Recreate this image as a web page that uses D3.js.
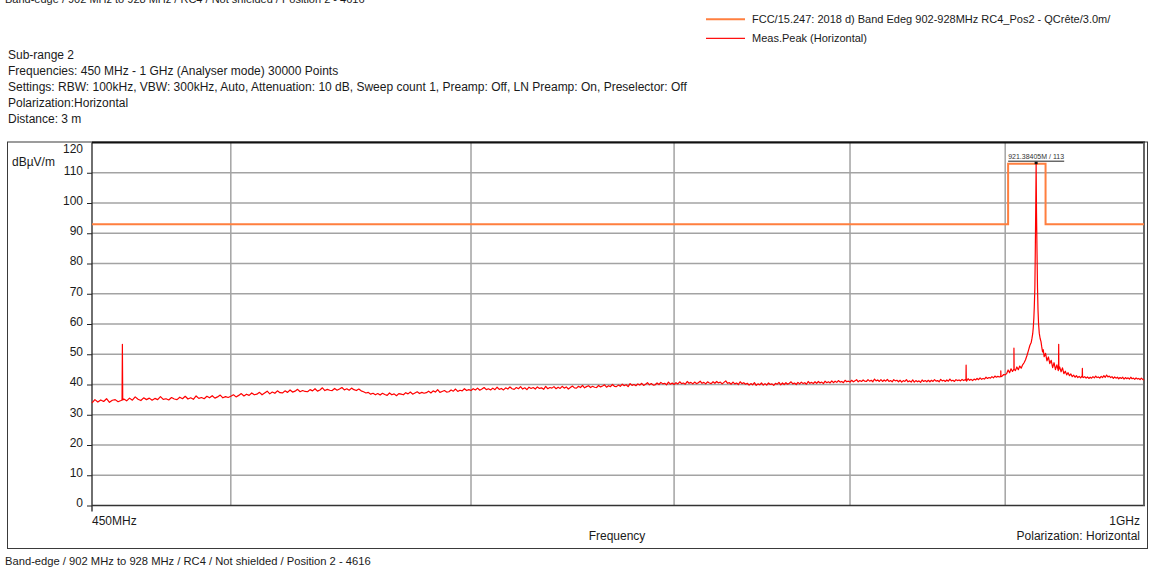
<!DOCTYPE html>
<html><head><meta charset="utf-8">
<script src="https://cdn.jsdelivr.net/npm/d3@7"></script>
<style>
body{margin:0;background:#fff;}
svg{display:block;font-family:"Liberation Sans",Arial,sans-serif;}
</style></head><body>
<svg id="c" width="1151" height="568"></svg>
<script>
// ---------- texts ----------
const titleText = "Band-edge / 902 MHz to 928 MHz / RC4 / Not shielded / Position 2  -  4616";
const infoLines = [
  "Sub-range 2",
  "Frequencies: 450 MHz - 1 GHz (Analyser mode) 30000 Points",
  "Settings: RBW: 100kHz, VBW: 300kHz, Auto, Attenuation: 10 dB, Sweep count 1, Preamp: Off, LN Preamp: On, Preselector: Off",
  "Polarization:Horizontal",
  "Distance: 3 m"
];
const legendLabels = ["FCC/15.247: 2018 d) Band Edeg 902-928MHz RC4_Pos2 - QCrête/3.0m/", "Meas.Peak (Horizontal)"];
const yUnit = "dBµV/m";
const yTicks = [0, 10, 20, 30, 40, 50, 60, 70, 80, 90, 100, 110, 120];
const xGridMHz = [500, 600, 700, 800, 900];
const xStartLabel = "450MHz", xEndLabel = "1GHz";
const xTitle = "Frequency", polLabel = "Polarization: Horizontal";

// ---------- limit line (dBµV/m) ----------
const limitFreqsMHz = [450, 902, 902, 928, 928, 1000];
const limitLevels = [93, 93, 113, 113, 93, 93];

// ---------- measured peak trace ----------
// sweep A: 450 .. 900 MHz, 1 MHz grid
const sweepA_startMHz = 450, sweepA_stepMHz = 1;
const sweepA_levels = [
  33.9, 35.0, 34.2, 34.9, 34.4, 35.3, 34.1, 34.8, 35.0, 34.3,
  34.7, 35.2, 34.6, 35.5, 34.8, 35.9, 35.1, 34.7, 35.6, 35.0,
  35.5, 34.8, 35.4, 35.0, 36.0, 35.1, 35.3, 34.9, 35.7, 35.2,
  35.0, 35.8, 35.3, 36.1, 35.2, 35.6, 35.1, 36.2, 35.4, 35.7,
  35.3, 36.1, 35.6, 36.3, 35.5, 35.9, 36.5, 35.6, 36.0, 35.7,
  36.1, 36.6, 35.9, 36.4, 37.0, 36.2, 36.8, 36.4, 37.2, 36.6,
  36.8, 37.4, 36.6, 37.2, 37.8, 36.9, 37.5, 37.1, 37.9, 37.3,
  37.2, 37.9, 37.4, 38.2, 37.5, 37.8, 38.4, 37.6, 38.0, 37.7,
  37.6, 38.3, 37.9, 38.6, 37.8, 38.2, 38.9, 38.0, 38.4, 38.1,
  38.0, 38.7, 38.1, 38.5, 39.0, 38.2, 38.6, 38.1, 38.8, 38.3,
  38.0, 38.5, 37.9, 37.6, 37.2, 37.4, 36.8, 37.1, 36.6, 37.0,
  36.5, 37.1, 36.7, 36.4, 37.2, 36.6, 36.9, 36.3, 37.0, 36.8,
  36.6, 37.3, 36.9, 37.5, 36.8, 37.2, 37.6, 37.0, 37.4, 37.1,
  37.3, 37.8, 37.2, 37.9, 37.5, 38.3, 37.4, 37.7, 38.0, 37.5,
  37.6, 38.2, 37.8, 38.5, 37.7, 38.1, 37.9, 38.6, 38.0, 38.3,
  38.0, 38.6, 38.2, 38.8, 38.1, 38.5, 39.0, 38.3, 38.6, 38.2,
  38.8, 38.3, 39.1, 38.4, 38.7, 38.2, 38.9, 38.5, 39.2, 38.6,
  38.4, 39.0, 38.6, 39.3, 38.5, 38.9, 38.3, 39.1, 38.7, 39.0,
  38.5, 39.2, 38.7, 38.9, 38.4, 39.4, 38.6, 39.0, 38.8, 39.3,
  38.6, 39.1, 38.7, 39.4, 38.8, 39.2, 38.5, 39.0, 39.5, 38.9,
  38.8, 39.4, 39.0, 39.7, 38.9, 39.3, 39.6, 39.0, 39.4, 39.1,
  39.0, 39.7, 39.2, 39.5, 39.9, 39.1, 39.6, 39.3, 40.0, 39.4,
  39.3, 39.8, 39.4, 40.1, 39.6, 39.9, 39.3, 40.3, 39.7, 40.0,
  39.6, 40.2, 39.8, 40.4, 39.7, 40.1, 40.6, 39.9, 40.3, 39.8,
  39.9, 40.5, 40.0, 40.7, 40.2, 40.4, 39.9, 40.8, 40.1, 40.5,
  40.0, 40.6, 40.2, 40.9, 40.3, 40.5, 40.1, 41.0, 40.4, 40.7,
  40.2, 40.8, 40.3, 40.6, 41.1, 40.4, 40.7, 40.2, 40.9, 40.5,
  40.3, 40.9, 40.4, 41.0, 40.5, 40.8, 40.2, 40.7, 41.2, 40.4,
  40.6, 40.1, 40.8, 40.2, 40.5, 40.0, 40.9, 40.3, 40.6, 40.1,
  40.4, 39.8, 40.3, 39.9, 40.6, 39.7, 40.2, 39.9, 40.5, 39.8,
  40.3, 39.8, 40.5, 40.0, 40.2, 39.7, 40.4, 40.1, 40.7, 39.9,
  40.5, 40.0, 40.6, 40.1, 40.4, 40.9, 40.2, 40.5, 40.0, 40.7,
  40.2, 40.8, 40.3, 40.6, 40.1, 41.0, 40.4, 40.7, 40.3, 40.9,
  40.4, 41.0, 40.5, 40.8, 40.3, 41.1, 40.6, 40.9, 40.5, 41.2,
  40.6, 41.1, 40.7, 41.3, 40.8, 41.0, 40.6, 41.4, 40.9, 41.1,
  40.8, 41.4, 40.9, 41.2, 41.6, 40.9, 41.3, 41.0, 41.5, 41.1,
  41.0, 41.6, 41.1, 41.4, 40.9, 41.8, 41.2, 41.5, 41.0, 41.6,
  41.0, 41.5, 41.1, 41.7, 41.0, 41.3, 40.9, 41.6, 41.2, 41.4,
  40.9, 41.4, 40.8, 41.3, 41.0, 41.6, 40.9, 41.2, 40.8, 41.5,
  40.8, 41.3, 40.9, 41.2, 40.7, 41.5, 41.0, 41.3, 40.9, 41.4,
  40.9, 41.4, 41.0, 41.6, 41.1, 41.3, 40.9, 41.7, 41.2, 41.4,
  41.0, 41.5, 41.1, 41.8, 41.2, 41.4, 41.0, 41.6, 41.3, 41.5,
  41.2, 41.7, 41.3, 41.6, 41.1, 41.9, 41.4, 41.7, 41.3, 41.8,
  41.5, 42.0, 41.6, 42.2, 41.7, 42.0, 41.8, 42.4, 42.0, 42.3,
  42.1, 42.6, 42.2, 42.8, 42.4, 42.7, 42.5, 43.1, 42.8, 43.3,
  43.2
];
// sweep B: 901 .. 917 MHz, 1 MHz grid
const sweepB_startMHz = 901, sweepB_stepMHz = 1;
const sweepB_levels = [43.6, 44.8, 43.9, 45.2, 44.3, 45.0, 44.6, 45.8, 44.9, 46.1, 45.4, 46.5, 47.2, 48.2, 49.6, 51.2, 52.9];
// carrier (921.38405 MHz) region
const carrierFreqsMHz = [918.0, 918.5, 919.0, 919.4, 919.8, 920.1, 920.5, 920.8, 921.1, 921.38405, 921.65, 922.0, 922.35, 922.7, 923.1, 923.6, 924.2, 924.8, 925.3, 925.9, 926.4];
const carrierLevels   = [54.0, 55.3, 56.8, 58.9, 62.0, 65.7, 72.0, 84.0, 98.0, 113.0, 97.0, 84.0, 72.0, 64.6, 60.0, 56.9, 55.2, 54.2, 52.5, 50.8, 51.5];
// sweep C: 927 .. 1000 MHz, 1 MHz grid
const sweepC_startMHz = 927, sweepC_stepMHz = 1;
const sweepC_levels = [
  49.2, 50.3, 47.8, 49.1, 46.9, 48.0, 45.6, 47.2, 44.9, 46.5,
  44.6, 45.8, 44.2, 45.5, 43.6, 44.4, 43.2, 43.9, 42.9, 43.5,
  42.6, 43.1, 42.4, 42.9, 42.3, 42.7, 42.2, 42.8, 42.3, 42.6,
  42.1, 42.5, 42.0, 42.4, 42.1, 42.6, 42.2, 42.8, 42.3, 42.5,
  42.1, 42.7, 42.3, 42.9, 42.4, 43.1, 42.5, 42.8, 42.3, 42.6,
  42.0, 42.5, 42.1, 42.4, 41.9, 42.3, 42.0, 42.4, 41.8, 42.3,
  41.9, 42.2, 41.8, 42.4, 41.9, 42.1, 41.7, 42.2, 41.8, 42.0,
  41.6, 42.1, 41.7, 41.5
];
// narrow spurious spikes
const spikeFreqsMHz   = [460.5, 873.7, 897.0, 906.0, 937.3, 954.3];
const spikeLevels     = [53.3, 46.4, 44.5, 52.0, 53.3, 45.3];
const spikeFloorLevels = [34.9, 41.4, 42.6, 45.0, 45.0, 42.5];

const markerFreqMHz = 921.38405, markerLevel = 113;
const markerText = "921.38405M / 113";

// ---------- build ----------
const svg = d3.select("#c");
const plot = {left: 92, right: 1144, top: 142.5, bottom: 505.5};
const x = d3.scaleLog().domain([450, 1000]).range([plot.left, plot.right]);
const y = d3.scaleLinear().domain([0, 120]).range([plot.bottom, plot.top]);

const trace = [];
sweepA_levels.forEach((v, i) => trace.push([sweepA_startMHz + i * sweepA_stepMHz, v]));
sweepB_levels.forEach((v, i) => trace.push([sweepB_startMHz + i * sweepB_stepMHz, v]));
carrierFreqsMHz.forEach((f, i) => trace.push([f, carrierLevels[i]]));
sweepC_levels.forEach((v, i) => trace.push([sweepC_startMHz + i * sweepC_stepMHz, v]));
const spikeHalf = 0.12;
spikeFreqsMHz.forEach((f, i) => {
  trace.push([f - spikeHalf, spikeFloorLevels[i]]);
  trace.push([f, spikeLevels[i]]);
  trace.push([f + spikeHalf, spikeFloorLevels[i]]);
});
trace.sort((a, b) => a[0] - b[0]);
const limit = limitFreqsMHz.map((f, i) => [f, limitLevels[i]]);

const txt = "#1a1a1a";

// header
svg.append("text").attr("x", 5).attr("y", 2.5).attr("font-size", 11).attr("fill", txt).text(titleText);
svg.append("g").selectAll("text").data(infoLines).join("text")
  .attr("x", 8).attr("y", (d, i) => 58.5 + i * 16).attr("font-size", 12).attr("fill", txt).text(d => d);

// legend
const legColors = ["#ff7f3f", "#ff1010"];
const legY = [19.3, 38.3];
const leg = svg.append("g");
legendLabels.forEach((t, i) => {
  leg.append("line").attr("x1", 706).attr("x2", 745).attr("y1", legY[i]).attr("y2", legY[i])
    .attr("stroke", legColors[i]).attr("stroke-width", i === 0 ? 2 : 1.3);
  leg.append("text").attr("x", 752).attr("y", legY[i] + 3.7).attr("font-size", 11).attr("fill", txt).text(t);
});

// outer frame
svg.append("rect").attr("x", 7.5).attr("y", 142).attr("width", 1140).attr("height", 406.5)
  .attr("fill", "none").attr("stroke", "#3a3a3a").attr("stroke-width", 1);

// grid
const grid = svg.append("g");
grid.selectAll("line.h").data(yTicks.filter(t => t > 0 && t < 120)).join("line")
  .attr("x1", plot.left).attr("x2", plot.right).attr("y1", d => y(d)).attr("y2", d => y(d))
  .attr("stroke", "#a3a3a3").attr("stroke-width", 1.5);
grid.selectAll("line.v").data(xGridMHz).join("line")
  .attr("x1", d => x(d)).attr("x2", d => x(d)).attr("y1", plot.top).attr("y2", plot.bottom)
  .attr("stroke", "#a3a3a3").attr("stroke-width", 1.5);

// y axis
const yAxis = d3.axisLeft(y).tickValues(yTicks).tickSize(5).tickPadding(4);
const ya = svg.append("g").attr("transform", `translate(${plot.left},0)`).call(yAxis);
ya.select(".domain").remove();
ya.selectAll(".tick line").attr("stroke", "#222").filter(d => d === 120).remove();
ya.selectAll(".tick text").attr("font-size", 12).attr("fill", txt)
  .attr("font-family", "Liberation Sans, Arial, sans-serif")
  .attr("dy", d => d === 120 ? "0.85em" : "0.12em");
svg.append("text").attr("x", 12).attr("y", 166).attr("font-size", 12).attr("fill", txt).text(yUnit);

// plot borders
svg.append("line").attr("x1", plot.left).attr("x2", plot.left).attr("y1", plot.top).attr("y2", plot.bottom + 6)
  .attr("stroke", "#222").attr("stroke-width", 1.3);
svg.append("line").attr("x1", plot.left).attr("x2", plot.right + 1).attr("y1", plot.bottom).attr("y2", plot.bottom)
  .attr("stroke", "#333").attr("stroke-width", 1.5);
svg.append("line").attr("x1", plot.left).attr("x2", plot.right + 1).attr("y1", plot.top).attr("y2", plot.top)
  .attr("stroke", "#111").attr("stroke-width", 2);
svg.append("line").attr("x1", plot.right).attr("x2", plot.right).attr("y1", plot.top).attr("y2", plot.bottom)
  .attr("stroke", "#666").attr("stroke-width", 2);

// limit line
const lineGen = d3.line().x(d => x(d[0])).y(d => y(d[1]));
svg.append("path").attr("d", lineGen(limit)).attr("fill", "none")
  .attr("stroke", "#ff7f3f").attr("stroke-width", 2);

// trace
svg.append("path").attr("d", lineGen(trace)).attr("fill", "none")
  .attr("stroke", "#ff0000").attr("stroke-width", 1.2).attr("stroke-linejoin", "round");

// marker
const mx = x(markerFreqMHz), my = y(markerLevel);
svg.append("rect").attr("x", mx - 1.5).attr("y", my - 2).attr("width", 3).attr("height", 2.5).attr("fill", "#111");
const mt = svg.append("text").attr("x", mx).attr("y", my - 5).attr("text-anchor", "middle")
  .attr("font-size", 7).attr("fill", "#333").text(markerText);
const bb = mt.node().getBBox();
svg.append("line").attr("x1", bb.x).attr("x2", bb.x + bb.width).attr("y1", my - 2.5).attr("y2", my - 2.5)
  .attr("stroke", "#222").attr("stroke-width", 1);

// x labels
svg.append("text").attr("x", plot.left).attr("y", 524.5).attr("font-size", 12).attr("fill", txt).text(xStartLabel);
svg.append("text").attr("x", 1140).attr("y", 524.5).attr("text-anchor", "end").attr("font-size", 12).attr("fill", txt).text(xEndLabel);
svg.append("text").attr("x", 617).attr("y", 539.5).attr("text-anchor", "middle").attr("font-size", 12).attr("fill", txt).text(xTitle);
svg.append("text").attr("x", 1140).attr("y", 539.5).attr("text-anchor", "end").attr("font-size", 12).attr("fill", txt).text(polLabel);

// footer
svg.append("text").attr("x", 5).attr("y", 565).attr("font-size", 11.2).attr("fill", txt).text(titleText);
</script>
</body></html>
